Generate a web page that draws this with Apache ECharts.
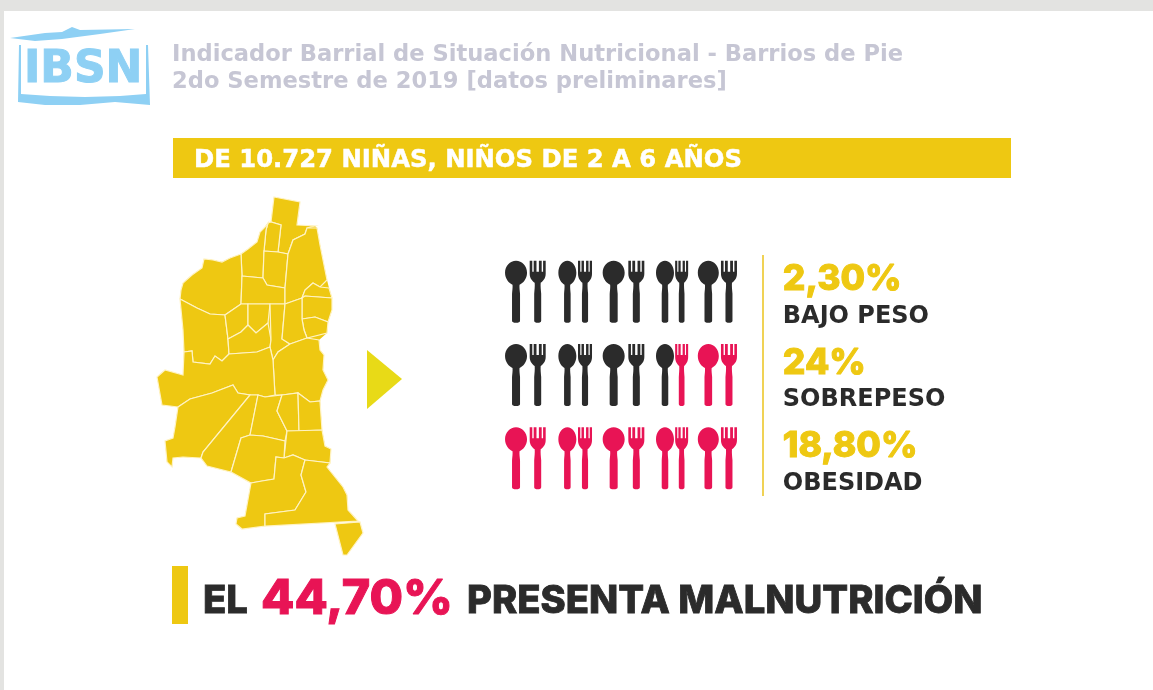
<!DOCTYPE html>
<html>
<head>
<meta charset="utf-8">
<title>IBSN</title>
<script src="https://cdn.jsdelivr.net/npm/echarts@6/dist/echarts.min.js"></script>
<style>
html, body { margin: 0; padding: 0; background: #fff; }
#chart { width: 1153px; height: 690px; }
</style>
</head>
<body>
<div id="chart"></div>
<script>
// datos
const titleLines = ['Indicador Barrial de Situación Nutricional - Barrios de Pie', '2do Semestre de 2019 [datos preliminares]'];
const bannerText = 'DE 10.727 NIÑAS, NIÑOS DE 2 A 6 AÑOS';
const rowNames = ['BAJO PESO', 'SOBREPESO', 'OBESIDAD'];
const rowPercents = ['2,30%', '24%', '18,80%'];
const iconSlots = ['c1', 't1', 'c2', 't2', 'c3', 't3', 'c4', 't4', 'c5', 't5'];
const blackIcons = [10, 7, 0]; // de 10 iconos por fila, el resto va en rosa
const totalPercent = '44,70%';

// barrios del mapa, trazados sobre la imagen
const contorno = [[274,197],[300,202],[297,225],[315,226],[317,228],[320,245],[323,260],[327,280],[329,288],[332,298],[332,310],[328,322],[327,333],[319,340],[320,350],[324,355],[323,370],[328,380],[323,390],[320,401],[322,430],[325,446],[331,449],[330,463],[327,467],[343,487],[347,495],[348,510],[358,521],[265,526],[242,529],[236,524],[237,518],[245,516],[251,483],[231,472],[207,466],[201,458],[183,457],[173,458],[172,467],[167,462],[165,441],[173,438],[175,427],[178,407],[162,405],[157,377],[165,370],[183,375],[184,352],[183,330],[180,299],[181,290],[183,283],[192,275],[202,268],[204,259],[213,260],[222,262],[230,258],[241,254],[248,249],[257,242],[260,232],[265,227],[268,223],[271,222]];
const barrios = {
  a: [[274,197],[300,202],[297,225],[315,226],[307,228],[305,234],[293,240],[288,254],[278,252],[281,225],[271,222]],
  b: [[268,223],[271,222],[281,225],[278,252],[264,251],[266,230]],
  c: [[268,223],[265,227],[260,232],[257,242],[248,249],[241,254],[242,276],[263,278],[264,251],[266,230]],
  d: [[241,254],[230,258],[222,262],[213,260],[204,259],[202,268],[192,275],[183,283],[181,290],[180,299],[197,308],[210,314],[225,315],[241,304],[242,276]],
  e: [[264,251],[278,252],[288,254],[285,288],[267,285],[263,278]],
  f: [[242,276],[263,278],[267,285],[285,288],[285,304],[241,304]],
  g: [[307,228],[317,228],[320,245],[323,260],[327,280],[320,287],[313,283],[305,290],[302,298],[285,304],[285,288],[288,254],[293,240],[305,234]],
  h: [[313,283],[320,287],[329,288],[332,298],[305,296],[302,298],[305,290]],
  i: [[305,296],[332,298],[332,310],[328,322],[315,317],[302,319],[302,298]],
  j: [[302,319],[315,317],[328,322],[327,333],[307,338],[304,330]],
  k: [[180,299],[197,308],[210,314],[225,315],[228,339],[229,354],[222,361],[215,356],[210,364],[193,362],[192,351],[184,352],[183,330]],
  m: [[225,315],[241,304],[248,304],[248,325],[241,332],[228,339]],
  n: [[248,304],[270,304],[268,323],[256,333],[248,325]],
  o: [[228,339],[241,332],[248,325],[256,333],[268,323],[271,340],[270,347],[257,352],[229,354]],
  p: [[270,304],[285,304],[282,339],[290,344],[278,352],[273,360],[270,347],[271,340]],
  q: [[285,304],[302,298],[302,319],[304,330],[307,338],[290,344],[282,339]],
  r: [[273,360],[278,352],[290,344],[307,338],[319,340],[320,350],[324,355],[323,370],[328,380],[323,390],[320,401],[310,402],[298,393],[282,395],[275,395]],
  l: [[184,352],[192,351],[193,362],[210,364],[215,356],[222,361],[229,354],[257,352],[270,347],[273,360],[275,395],[265,397],[258,395],[250,395],[238,393],[233,385],[212,393],[190,399],[178,407],[162,405],[157,377],[165,370],[183,375]],
  s: [[178,407],[190,399],[212,393],[233,385],[238,393],[250,395],[203,452],[201,458],[183,457],[173,458],[172,467],[167,462],[165,441],[173,438],[175,427]],
  t: [[250,395],[258,395],[250,435],[241,438],[231,472],[207,466],[201,458],[203,452]],
  u: [[258,395],[265,397],[282,395],[277,411],[287,431],[285,441],[263,436],[250,435]],
  v: [[282,395],[298,393],[299,431],[287,431],[277,411]],
  w: [[298,393],[310,402],[320,401],[322,430],[299,431]],
  x: [[287,431],[322,430],[325,446],[331,449],[330,463],[305,460],[293,455],[284,458]],
  y: [[241,438],[250,435],[263,436],[285,441],[284,458],[276,457],[274,479],[262,481],[251,483],[231,472]],
  z: [[276,457],[284,458],[293,455],[305,460],[301,475],[306,492],[295,510],[265,514],[265,526],[242,529],[236,524],[237,518],[245,516],[251,483],[262,481],[274,479]],
  aa: [[305,460],[330,463],[327,467],[343,487],[347,495],[348,510],[358,521],[265,526],[265,514],[295,510],[306,492],[301,475]],
  ab: [[335,524],[360,522],[363,533],[347,555],[343,555]]
};

// colores y formas
const YELLOW = '#EEC812';
const PINK = '#E81455';
const DARK = '#2B2B2B';
const LOGO = '#8ED0F4';
const FONT = 'Inter, "Noto Sans", sans-serif';
const WIDE = '"DejaVu Sans", sans-serif';
const SPOON = 'path://M11 0C17 0 22 5 22 12C22 18 18 22.500 14.500 24C14.200 27 14.800 30 15 33L15 60C15 61.500 13.500 62 11 62C8.500 62 7 61.500 7 60L7 33C7.200 30 7.800 27 7.500 24C4 22.500 0 18 0 12C0 5 5 0 11 0Z';
const FORK = 'path://M0 0L2.600 0L2.600 11L4 11L4 0L6.800 0L6.800 11L9.200 11L9.200 0L12 0L12 11L13.400 11L13.400 0L16 0L16 13C16 18 13 20.500 11 22C10.700 26 11.200 29 11.500 33L11.500 60C11.500 61.500 10 62 8 62C6 62 4.500 61.500 4.500 60L4.500 33C4.800 29 5.300 26 5 22C3 20.500 0 18 0 13Z';
// los pares no estan parejos en el original
const slotNudge = [0, -2, 4, -2, 3, 2, 7, 0, 3, 0];
const slotWidth = [22, 16, 18, 14, 22, 16, 18, 13, 21, 16];

function feature(name, ring) {
  return {
    type: 'Feature',
    properties: { name },
    geometry: { type: 'Polygon', coordinates: [ring.concat([ring[0]]).map(p => [p[0], -p[1]])] }
  };
}
const features = [feature('contorno', contorno)].concat(Object.keys(barrios).map(name => feature(name, barrios[name])));
echarts.registerMap('barrios', { type: 'FeatureCollection', features });

function iconData(black) {
  const out = [];
  rowNames.forEach((row, r) => {
    iconSlots.forEach((slot, s) => {
      if ((s < blackIcons[r]) === black) {
        out.push({
          value: [slot, row],
          symbol: s % 2 === 0 ? SPOON : FORK,
          symbolSize: [slotWidth[s], 62],
          symbolOffset: [slotNudge[s], 0]
        });
      }
    });
  });
  return out;
}

const myChart = echarts.init(document.getElementById('chart'));
myChart.setOption({
  animation: false,
  backgroundColor: '#fff',
  grid: { left: 504.2, top: 250, width: 236.6, height: 250 },
  xAxis: { type: 'category', data: iconSlots, show: false },
  yAxis: {
    type: 'category',
    data: rowNames,
    inverse: true,
    position: 'right',
    axisLine: { show: false },
    axisTick: { show: false },
    splitLine: { show: false },
    axisLabel: {
      interval: 0,
      margin: 42,
      align: 'left',
      padding: [12, 0, 0, 0],
      formatter: (v, i) => '{p|' + rowPercents[i] + '}\n{n|' + v + '}',
      rich: {
        p: { fontFamily: FONT, fontWeight: 800, fontSize: 35.500, lineHeight: 38, color: YELLOW, align: 'left', textBorderColor: YELLOW, textBorderWidth: 1 },
        n: { fontFamily: WIDE, fontWeight: 'bold', fontSize: 24, lineHeight: 36, color: DARK, align: 'left' }
      }
    }
  },
  series: [
    {
      type: 'map',
      map: 'barrios',
      silent: true,
      aspectScale: 1,
      left: 157,
      top: 197,
      width: 206,
      height: 358,
      label: { show: false },
      itemStyle: { areaColor: YELLOW, borderColor: '#FFF3C4', borderWidth: 1.200 },
      emphasis: { disabled: true },
      select: { disabled: true },
      data: features.map(f => (f.properties.name === 'contorno'
        ? { name: 'contorno', value: 1, itemStyle: { borderColor: YELLOW, borderWidth: 0 } }
        : { name: f.properties.name, value: 1 }))
    },
    { type: 'scatter', name: 'negro', silent: true, itemStyle: { color: DARK, opacity: 1 }, data: iconData(true) },
    { type: 'scatter', name: 'rosa', silent: true, itemStyle: { color: PINK, opacity: 1 }, data: iconData(false) }
  ],
  graphic: [
    // marco gris
    { type: 'rect', silent: true, shape: { x: 0, y: 0, width: 1153, height: 11 }, style: { fill: '#E3E3E1' } },
    { type: 'rect', silent: true, shape: { x: 0, y: 0, width: 4, height: 690 }, style: { fill: '#E3E3E1' } },
    // logo
    { type: 'polygon', silent: true, shape: { points: [[10,38],[45,33],[62,32],[72,27],[80,30],[135,29],[100,34],[62,39],[35,41]] }, style: { fill: LOGO } },
    { type: 'polygon', silent: true, shape: { points: [[19,45],[21,45],[21,94],[50,96],[85,97],[120,96],[146,94],[146,45],[148,45],[150,105],[115,102],[80,105],[45,105],[18,102]] }, style: { fill: LOGO } },
    { type: 'text', silent: true, style: { x: 24, y: 71, text: 'IBSN', fill: LOGO, stroke: LOGO, lineWidth: 1, font: 'bold 44px ' + WIDE, textVerticalAlign: 'middle' } },
    // titulo
    { type: 'text', silent: true, style: { x: 172, y: 55, text: titleLines[0], fill: '#C6C6D4', font: 'bold 22.600px ' + WIDE, textVerticalAlign: 'middle' } },
    { type: 'text', silent: true, style: { x: 172, y: 82, text: titleLines[1], fill: '#C6C6D4', font: 'bold 22.600px ' + WIDE, textVerticalAlign: 'middle' } },
    // banda
    { type: 'rect', silent: true, shape: { x: 173, y: 138, width: 838, height: 40 }, style: { fill: YELLOW } },
    { type: 'text', silent: true, style: { x: 194, y: 161, text: bannerText, fill: '#fff', stroke: '#fff', lineWidth: 0.5, font: 'bold 24.300px ' + WIDE, textVerticalAlign: 'middle' } },
    // flecha y separador
    { type: 'polygon', silent: true, shape: { points: [[367,350],[402,379],[367,409]] }, style: { fill: '#E8DA17' } },
    { type: 'rect', silent: true, shape: { x: 762, y: 255, width: 2, height: 241 }, style: { fill: '#F0D255' } },
    // pie
    { type: 'rect', silent: true, shape: { x: 172, y: 566, width: 16, height: 58 }, style: { fill: YELLOW } },
    { type: 'text', silent: true, style: { x: 203, y: 602, text: 'EL', fill: DARK, stroke: DARK, lineWidth: 0.8, font: '800 38.200px ' + FONT, textVerticalAlign: 'middle' } },
    { type: 'text', silent: true, style: { x: 261, y: 599, text: totalPercent, fill: PINK, stroke: PINK, lineWidth: 1, font: '800 48.500px ' + FONT, textVerticalAlign: 'middle' } },
    { type: 'text', silent: true, style: { x: 467, y: 602, text: 'PRESENTA MALNUTRICIÓN', fill: DARK, stroke: DARK, lineWidth: 0.8, font: '800 38.200px ' + FONT, textVerticalAlign: 'middle' } }
  ]
});
</script>
</body>
</html>
